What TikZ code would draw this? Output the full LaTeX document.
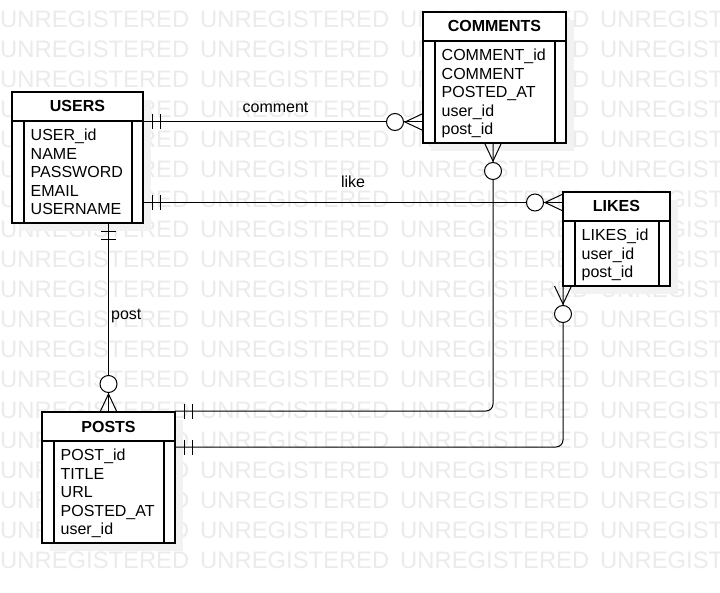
\documentclass[tikz,border=0pt]{standalone}
\usepackage{fontspec}
\setmainfont{Liberation Sans}
\newcommand\ERtable[7]{%
  \node[shad, minimum width=#4pt, minimum height=#5pt] (#1-sh) at ({#2+8},{#3+8}) {};
  \node[tbl, minimum width=#4pt, minimum height=#5pt] (#1) at (#2,#3) {};
  \draw[boxline] ([yshift=-29pt]#1.north west) -- ([yshift=-29pt]#1.north east);
  \draw[boxline] ([xshift=12pt,yshift=-29pt]#1.north west) -- ([xshift=12pt]#1.south west);
  \draw[boxline] ([xshift=-11pt,yshift=-29pt]#1.north east) -- ([xshift=-11pt]#1.south east);
  \node[hdr] (#1-title) at ([yshift=-20pt]#1.north) {#6};
  \foreach \f [count=\i from 0] in {#7}
    \node[fld] (#1-f\i) at ([xshift=18.5pt,yshift={-48.5pt-18.6pt*\i}]#1.north west) {\f};
}
\begin{document}
\begin{tikzpicture}[x=1pt,y=-1pt,
  tbl/.style={draw, line width=1.3pt, fill=white, inner sep=0, outer sep=0, anchor=north west},
  shad/.style={fill=black!5, draw=none, inner sep=0, outer sep=0, anchor=north west},
  boxline/.style={line width=1.3pt},
  conn/.style={line width=1pt},
  hdr/.style={font=\fontsize{16}{19}\selectfont\bfseries, inner sep=0, anchor=base},
  fld/.style={font=\fontsize{16}{19}\selectfont, inner sep=0, anchor=base west},
  lbl/.style={font=\fontsize{16}{19}\selectfont, inner sep=0, anchor=base},
  wm/.style={font=\fontsize{23.8}{26}\selectfont, text=black!8, inner sep=0, anchor=base west},
  mandone/.pic={\draw[conn] (9,-7.5) -- (9,7.5) (17,-7.5) -- (17,7.5);},
  zeromany/.pic={\draw[conn] (0,-8.5) -- (18,0) -- (0,8.5); \draw[conn, fill=white] (28,0) circle[radius=8.5];}
]
\useasboundingbox (0,0) rectangle (720,593);
\clip (0,0) rectangle (720,593);
\fill[white] (0,0) rectangle (720,593);
\foreach \r in {0,...,18}
  \foreach \c in {0,...,3}
    \node[wm] (wm-\r-\c) at ({200*\c},{28+30*\r}) {UNREGISTERED};

\ERtable{users}{12}{92}{131}{131}{USERS}{USER\_id,NAME,PASSWORD,EMAIL,USERNAME}
\ERtable{comments}{423}{12}{143}{131}{COMMENTS}{COMMENT\_id,COMMENT,POSTED\_AT,user\_id,post\_id}
\ERtable{likes}{563}{192}{107}{94}{LIKES}{LIKES\_id,user\_id,post\_id}
\ERtable{posts}{42}{412}{133}{131}{POSTS}{POST\_id,TITLE,URL,POSTED\_AT,user\_id}

% comment
\draw[conn] (users.east |- 0,122) -- (comments.west |- 0,122);
\pic at (users.east |- 0,122) {mandone};
\pic[rotate=180] at (comments.west |- 0,122) {zeromany};
\node[lbl] (lcomment) at (275.5,112.5) {comment};

% like
\draw[conn] (users.east |- 0,202.5) -- (likes.west |- 0,202.5);
\pic at (users.east |- 0,202.5) {mandone};
\pic[rotate=180] at (likes.west |- 0,202.5) {zeromany};
\node[lbl] (llike) at (353,187.3) {like};

% post
\draw[conn] (users.south -| 108.5,0) -- (posts.north -| 108.5,0);
\pic[rotate=-90] at (users.south -| 108.5,0) {mandone};
\pic[rotate=90] at (posts.north -| 108.5,0) {zeromany};
\node[lbl, anchor=base west] (lpost) at (111,320) {post};

% comments - posts
\draw[conn, rounded corners=7pt] (comments.south -| 493,0) -- (493,411) -- (posts.east |- 0,411);
\pic[rotate=-90] at (comments.south -| 493,0) {zeromany};
\pic at (posts.east |- 0,411) {mandone};

% likes - posts
\draw[conn, rounded corners=7pt] (likes.south west) -- (563,447) -- (posts.east |- 0,447);
\pic[rotate=-90] at (likes.south west) {zeromany};
\pic at (posts.east |- 0,447) {mandone};
\end{tikzpicture}
\end{document}
